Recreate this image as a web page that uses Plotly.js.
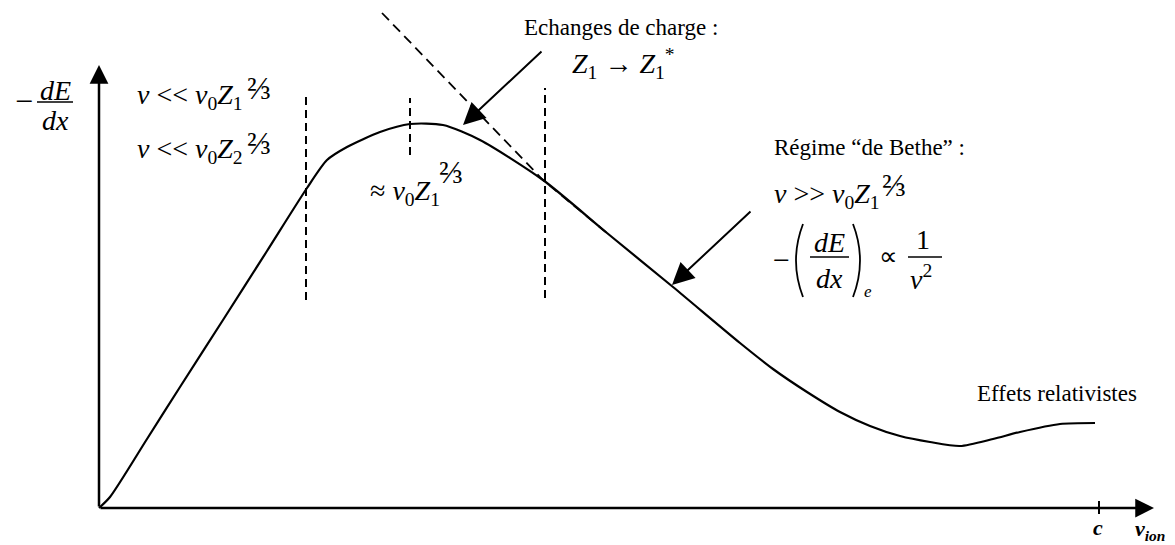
<!DOCTYPE html>
<html>
<head>
<meta charset="utf-8">
<script src="https://cdn.plot.ly/plotly-3.0.1.min.js"></script>
<style>
  html, body { margin: 0; padding: 0; background: #fff; }
  #chart { width: 1175px; height: 545px; }
</style>
</head>
<body>
<div id="chart"></div>
<script>
// Stopping power curve (arbitrary units, c = 10)
const velocity = [0, 0.11, 0.48, 0.81, 1.24, 1.68, 2.08, 2.28, 2.48, 2.81, 3.11, 3.44, 3.81,
                  4.44, 5.08, 5.74, 6.41, 6.74, 7.08, 7.41, 7.71, 8.01, 8.31, 8.61, 8.94, 9.21, 9.61, 9.96];
const stoppingPower = [0, 0.275, 1.725, 3.025, 4.7, 6.425, 8.0, 8.7, 9.025, 9.4, 9.6, 9.575, 9.2,
                       8.2, 6.875, 5.525, 4.125, 3.475, 2.9, 2.4, 2.05, 1.8, 1.65, 1.55, 1.725, 1.9, 2.1, 2.125];

// dashed guides: low speed limit, maximum, start of the Bethe regime
const guideVelocity = [2.07, 3.11, 4.46];
const guideTop = [10.4, 10.25, 10.5];
const guideBottom = [5.2, 8.825, 5.25];

// Bethe asymptote (hand drawn tangent)
const betheVelocity = [2.83, 4.44, 5.08];
const betheStopping = [12.375, 8.2, 6.875];

const lightSpeed = 10;
const axisEnd = [10.55, 11.075];

const W = 1175, H = 545;
const FONT = 'Liberation Serif';

function note(text, x, y, size, opts) {
  return Object.assign({
    text: text, xref: 'paper', yref: 'paper', x: x / W, y: 1 - y / H,
    showarrow: false, xanchor: 'left', yanchor: 'middle',
    font: {family: FONT, size: size, color: '#000'}
  }, opts || {});
}

function pointer(tipX, tipY, tailX, tailY) {
  return {
    text: '', xref: 'paper', yref: 'paper', x: tipX / W, y: 1 - tipY / H,
    ax: tailX - tipX, ay: tailY - tipY, showarrow: true,
    arrowhead: 2, arrowsize: 2.2, arrowwidth: 2, arrowcolor: '#000', standoff: 0
  };
}

function bar(x0, x1, y) {
  return {type: 'line', xref: 'paper', yref: 'paper', x0: x0 / W, x1: x1 / W,
          y0: 1 - y / H, y1: 1 - y / H, line: {color: '#000', width: 1.5}};
}

function paren(xEnd, xMid, yTop, yBot) {
  const p = (x, y) => (x / W).toFixed(5) + ',' + (1 - y / H).toFixed(5);
  return {type: 'path', xref: 'paper', yref: 'paper',
          path: 'M' + p(xEnd, yTop) + ' Q' + p(xMid, (yTop + yBot) / 2) + ' ' + p(xEnd, yBot),
          line: {color: '#000', width: 1.8}};
}

const traces = [];

guideVelocity.forEach((v, i) => {
  traces.push({
    x: [v, v], y: [guideBottom[i], guideTop[i]], mode: 'lines',
    line: {color: '#000', width: 2, dash: '8px,5px'}, hoverinfo: 'skip'
  });
});

traces.push({
  x: betheVelocity, y: betheStopping, mode: 'lines',
  line: {color: '#000', width: 1.8, dash: '10px,6px'}, hoverinfo: 'skip'
});

traces.push({
  x: velocity, y: stoppingPower, mode: 'lines',
  line: {color: '#000', width: 2.2, shape: 'spline', smoothing: 0.7}
});

// tick for c on the velocity axis
traces.push({
  x: [lightSpeed, lightSpeed], y: [-0.15, 0.175], mode: 'lines',
  line: {color: '#000', width: 2}, hoverinfo: 'skip'
});

const annotations = [
  // axes with arrow heads
  {x: axisEnd[0], y: 0, ax: 0, ay: 0, xref: 'x', yref: 'y', axref: 'x', ayref: 'y', text: '',
   showarrow: true, arrowhead: 2, arrowsize: 1.5, arrowwidth: 2.5, arrowcolor: '#000', standoff: 0},
  {x: 0, y: axisEnd[1], ax: 0, ay: 0, xref: 'x', yref: 'y', axref: 'x', ayref: 'y', text: '',
   showarrow: true, arrowhead: 2, arrowsize: 1.5, arrowwidth: 2.5, arrowcolor: '#000', standoff: 0},

  // y label  -dE/dx
  note('\u2212', 24, 101, 32, {xanchor: 'center'}),
  note('<i>dE</i>', 55, 90, 28, {xanchor: 'center'}),
  note('<i>dx</i>', 55, 121, 28, {xanchor: 'center'}),

  // x label
  note('<b><i>c</i></b>', 1098, 527, 22, {xanchor: 'center'}),
  note('<b><i>v<sub>ion</sub></i></b>', 1133, 530, 22),

  // low velocity conditions
  note('<i>v</i> << <i>v</i><sub>0</sub><i>Z</i><sub>1</sub>', 135, 97, 28),
  note('\u2154', 245, 88, 32),
  note('<i>v</i> << <i>v</i><sub>0</sub><i>Z</i><sub>2</sub>', 135, 150, 28),
  note('\u2154', 245, 143, 32),

  // maximum
  note('\u2248 <i>v</i><sub>0</sub><i>Z</i><sub>1</sub>', 368, 192, 28),
  note('\u2154', 437, 172, 32),

  // charge exchange
  note('Echanges de charge :', 621, 27, 23, {xanchor: 'center'}),
  note('<i>Z</i><sub>1</sub> \u2192 <i>Z</i><sub>1</sub><sup>*</sup>', 570, 63, 28),
  pointer(463, 125, 543, 50),

  // Bethe regime
  note('R\u00e9gime \u201cde Bethe\u201d :', 772, 147, 23),
  note('<i>v</i> >> <i>v</i><sub>0</sub><i>Z</i><sub>1</sub>', 772, 195, 28),
  note('\u2154', 880, 185, 32),
  note('\u2212', 781, 259, 30, {xanchor: 'center'}),
  note('<i>dE</i>', 829, 242, 28, {xanchor: 'center'}),
  note('<i>dx</i>', 829, 278, 28, {xanchor: 'center'}),
  note('<i>e</i>', 868, 291, 17, {xanchor: 'center'}),
  note('\u221d', 888, 256, 26, {xanchor: 'center'}),
  note('1', 923, 239, 28, {xanchor: 'center'}),
  note('<i>v</i><sup>2</sup>', 908, 277, 28),
  pointer(672, 285, 752, 210),

  // relativistic effects
  note('Effets relativistes', 975, 393, 23)
];

const shapes = [
  bar(37, 73, 102),
  bar(810, 849, 257),
  bar(908, 942, 257),
  paren(803, 789, 224, 297),
  paren(853, 867, 224, 297)
];

const layout = {
  width: W, height: H,
  margin: {l: 0, r: 0, t: 0, b: 0},
  paper_bgcolor: '#fff', plot_bgcolor: '#fff',
  showlegend: false,
  xaxis: {range: [-0.99, 10.76], visible: false, fixedrange: true},
  yaxis: {range: [-0.925, 12.7], visible: false, fixedrange: true},
  annotations: annotations,
  shapes: shapes
};

Plotly.newPlot('chart', traces, layout, {staticPlot: true, displayModeBar: false});
</script>
</body>
</html>
